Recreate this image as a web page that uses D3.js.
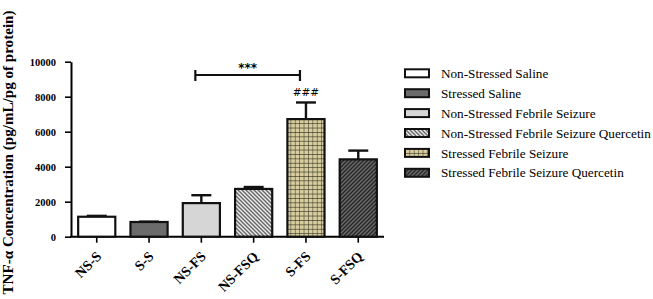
<!DOCTYPE html>
<html>
<head>
<meta charset="utf-8">
<script src="https://cdn.jsdelivr.net/npm/d3@7"></script>
<style>
    html, body { margin: 0; padding: 0; background: #fff; }
    svg { display: block; }
</style>
</head>
<body>
<div id="chart"></div>
<script>
// Data
const groups = ["NS-S", "S-S", "NS-FS", "NS-FSQ", "S-FS", "S-FSQ"];
const legendNames = [
    "Non-Stressed Saline",
    "Stressed Saline",
    "Non-Stressed Febrile Seizure",
    "Non-Stressed Febrile Seizure Quercetin",
    "Stressed Febrile Seizure",
    "Stressed Febrile Seizure Quercetin"
];
const means = [1140, 840, 1920, 2730, 6720, 4420];
const sems = [50, 20, 450, 110, 950, 500];
const yTicks = [0, 2000, 4000, 6000, 8000, 10000];

// fills per group (patterns defined below)
const fills = ["#ffffff", "#6b6b6b", "#d6d6d6", "url(#hatchLight)", "url(#gridTan)", "url(#hatchDark)"];

function renderChart() {
    const width = 653, height = 299;
    const svg = d3.select("#chart").append("svg")
        .attr("width", width)
        .attr("height", height);

    // Patterns
    const defs = svg.append("defs");

    const hl = defs.append("pattern").attr("id", "hatchLight")
        .attr("patternUnits", "userSpaceOnUse")
        .attr("width", 4).attr("height", 4);
    hl.append("rect").attr("width", 4).attr("height", 4).attr("fill", "#eeeeee");
    hl.append("path").attr("d", "M-1,-1 L5,5 M-1,3 L1,5 M3,-1 L5,1")
        .attr("stroke", "#6a6a6a").attr("stroke-width", 1.5);

    const hd = defs.append("pattern").attr("id", "hatchDark")
        .attr("patternUnits", "userSpaceOnUse")
        .attr("width", 4).attr("height", 4);
    hd.append("rect").attr("width", 4).attr("height", 4).attr("fill", "#6a6a6a");
    hd.append("path").attr("d", "M-1,5 L5,-1 M-1,1 L1,-1 M3,5 L5,3")
        .attr("stroke", "#262626").attr("stroke-width", 1.4);

    const gt = defs.append("pattern").attr("id", "gridTan")
        .attr("patternUnits", "userSpaceOnUse")
        .attr("width", 4.4).attr("height", 4.4);
    gt.append("rect").attr("width", 4.4).attr("height", 4.4).attr("fill", "#d8cd9f");
    gt.append("path").attr("d", "M0,0 L0,4.4 M0,0 L4.4,0")
        .attr("stroke", "#3a3a28").attr("stroke-width", 1.1);

    // Scales
    const y = d3.scaleLinear().domain([0, 10000]).range([236.7, 61.7]);
    const x = d3.scaleBand().domain(groups).range([71, 384])
        .paddingInner(0.29).paddingOuter(0.137);

    const serif = "'Liberation Serif', 'Times New Roman', Times, 'DejaVu Serif', serif";

    // Y axis
    const yAxis = svg.append("g")
        .attr("transform", "translate(71,0)")
        .call(d3.axisLeft(y).tickValues(yTicks).tickFormat(d3.format("d")).tickSize(6).tickSizeOuter(0));
    yAxis.attr("font-family", serif);
    yAxis.select(".domain").attr("stroke-width", 2);
    yAxis.selectAll(".tick line").attr("stroke-width", 1.6);
    yAxis.selectAll(".tick text")
        .attr("x", -15)
        .style("font-family", serif)
        .style("font-weight", "bold")
        .style("font-size", "10.5px");

    // X axis
    const xAxis = svg.append("g")
        .attr("transform", `translate(0,${y(0)})`)
        .call(d3.axisBottom(x).tickSize(6).tickSizeOuter(0));
    xAxis.attr("font-family", serif);
    xAxis.select(".domain").attr("d", `M70,0H384`).attr("stroke-width", 2);
    xAxis.selectAll(".tick line").attr("stroke-width", 1.6);
    xAxis.selectAll(".tick text")
        .attr("text-anchor", "end")
        .attr("transform", "translate(2,17) rotate(-45)")
        .attr("y", 0).attr("dy", "0.35em")
        .style("font-family", serif)
        .style("font-weight", "bold")
        .style("font-size", "14px");

    // Y title
    svg.append("text")
        .attr("transform", `translate(13,${(10 + 295) / 2}) rotate(-90)`)
        .attr("text-anchor", "middle")
        .style("font-family", serif)
        .style("font-weight", "bold")
        .style("font-size", "15.1px")
        .text("TNF-α Concentration (pg/mL/pg of protein)");

    const bars = groups.map((g, i) => ({ key: g, mean: means[i], sem: sems[i], fill: fills[i] }));

    // Error bars (upper only)
    const capW = 20;
    const eb = svg.append("g").selectAll("g").data(bars).enter().append("g");
    eb.append("line")
        .attr("x1", d => x(d.key) + x.bandwidth() / 2)
        .attr("x2", d => x(d.key) + x.bandwidth() / 2)
        .attr("y1", d => y(d.mean))
        .attr("y2", d => y(d.mean + d.sem))
        .attr("stroke", "#111").attr("stroke-width", 2.4);
    eb.append("line")
        .attr("x1", d => x(d.key) + x.bandwidth() / 2 - capW / 2)
        .attr("x2", d => x(d.key) + x.bandwidth() / 2 + capW / 2)
        .attr("y1", d => y(d.mean + d.sem))
        .attr("y2", d => y(d.mean + d.sem))
        .attr("stroke", "#111").attr("stroke-width", 2.4);

    // Bars
    svg.append("g").selectAll("rect").data(bars).enter().append("rect")
        .attr("x", d => x(d.key))
        .attr("y", d => y(d.mean))
        .attr("width", x.bandwidth())
        .attr("height", d => y(0) - y(d.mean))
        .attr("fill", d => d.fill)
        .attr("stroke", "#111")
        .attr("stroke-width", 2.2);

    // Significance bracket NS-FS vs S-FS
    const bx1 = x("NS-FS") + x.bandwidth() / 2 - 6;
    const bx2 = x("S-FS") + x.bandwidth() / 2 - 6;
    const by = 75;
    svg.append("path")
        .attr("d", `M${bx1},${by - 5}V${by + 6}M${bx1},${by}H${bx2}M${bx2},${by - 5}V${by + 6}`)
        .attr("fill", "none").attr("stroke", "#111").attr("stroke-width", 2.2);
    svg.append("text")
        .attr("x", (bx1 + bx2) / 2).attr("y", 72)
        .attr("text-anchor", "middle")
        .style("font-family", "'DejaVu Sans', sans-serif")
        .style("font-weight", "bold")
        .style("font-size", "12px")
        .text("***");
    svg.append("text")
        .attr("x", x("S-FS") + x.bandwidth() / 2).attr("y", 96)
        .attr("text-anchor", "middle")
        .style("font-family", "'DejaVu Sans', sans-serif")
        .style("font-size", "10.5px")
        .text("###");

    // Legend
    const legend = svg.append("g").selectAll("g").data(bars).enter().append("g")
        .attr("transform", (d, i) => `translate(405,${73.3 + i * 19.9})`);
    legend.append("rect")
        .attr("x", 0).attr("y", -4)
        .attr("width", 24).attr("height", 8)
        .attr("fill", d => d.fill)
        .attr("stroke", "#111").attr("stroke-width", 2);
    legend.append("text")
        .attr("x", 36).attr("y", 0).attr("dy", "0.35em")
        .style("font-family", serif)
        .style("font-size", "13.2px")
        .text((d, i) => legendNames[i]);
}

document.addEventListener("DOMContentLoaded", renderChart);
</script>
</body>
</html>
